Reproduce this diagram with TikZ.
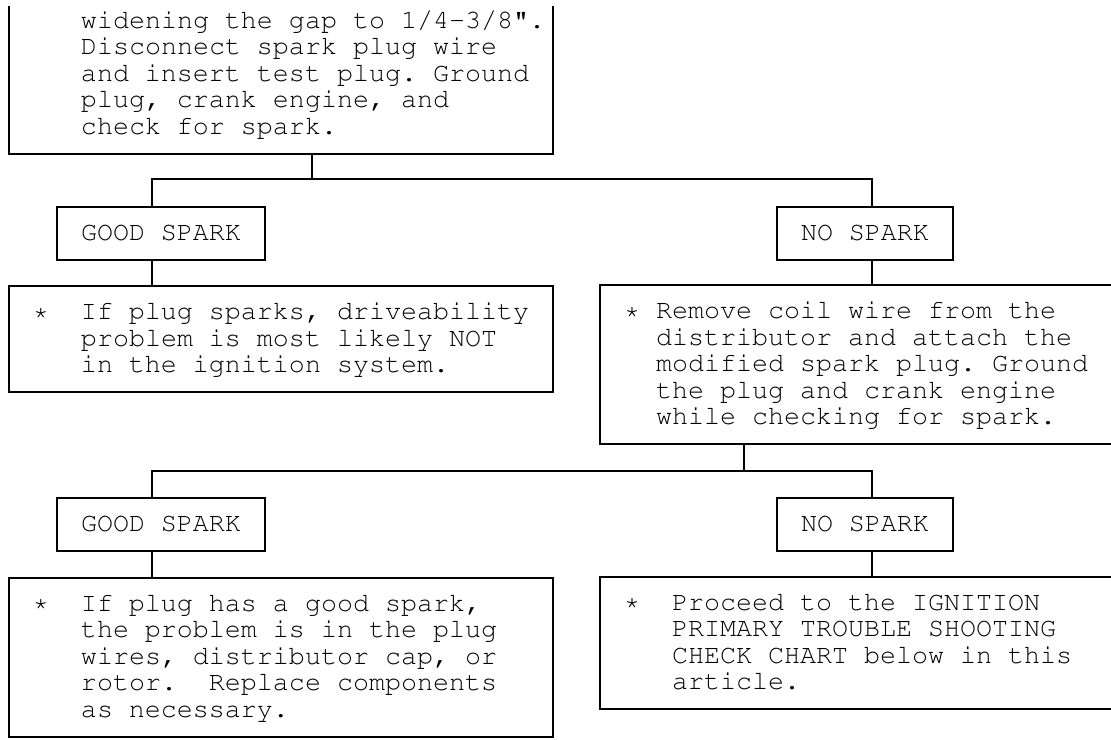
\documentclass[tikz,border=0pt]{standalone}
\usepackage[T1]{fontenc}
\usepackage{tikz}
\renewcommand{\ttdefault}{pcr}
\newcommand{\chartfont}{\fontsize{26.67}{26.5}\selectfont\ttfamily\frenchspacing}

\tikzset{
  chartbox/.style={anchor=north west, inner xsep=0pt, inner ysep=13.5pt,
    text height=20pt, align=left, font=\chartfont},
  framed/.style={chartbox, draw, line width=2pt},
  indent/.style={execute at begin node={\leftskip=#1\relax\spaceskip=16pt\relax}},
  link/.style={line width=2pt},
}

\begin{document}
\begin{tikzpicture}[x=1pt, y=-1pt]
\useasboundingbox (0,0) rectangle (1111,739);
\clip (0,6) rectangle (1111,739);
\coordinate (edge) at (1111,0);

\node[framed, text width=544pt, text depth=112pt, indent=72pt] (top) at (8,-6.5)
  {widening the gap to 1/4-3/8".\\ Disconnect spark plug wire\\ and insert test plug. Ground\\ plug, crank engine, and\\ check for spark.};

\node[framed, text width=208pt, text depth=6pt, indent=24pt] (good1) at (56,205.5) {GOOD SPARK};
\node[framed, text width=176pt, text depth=6pt, indent=24pt] (no1) at (776,205.5) {NO SPARK};

\node[framed, text width=544pt, text depth=59pt, indent=72pt] (sparks) at (8,285)
  {\llap{*\ \ }If plug sparks, driveability\\ problem is most likely NOT\\ in the ignition system.};
\node[chartbox, text width=511pt, text depth=112pt, indent=56pt] (remove) at (600,285)
  {\llap{*\ }Remove coil wire from the\\ distributor and attach the\\ modified spark plug. Ground\\ the plug and crank engine\\ while checking for spark.};

\node[framed, text width=208pt, text depth=6pt, indent=24pt] (good2) at (56,497) {GOOD SPARK};
\node[framed, text width=176pt, text depth=6pt, indent=24pt] (no2) at (776,497) {NO SPARK};

\node[framed, text width=544pt, text depth=112pt, indent=72pt] (rotor) at (8,576.5)
  {\llap{*\ \ }If plug has a good spark,\\ the problem is in the plug\\ wires, distributor cap, or\\ rotor.\ \ Replace components\\ as necessary.};
\node[chartbox, text width=511pt, text depth=85.5pt, indent=72pt] (chart) at (600,576.5)
  {\llap{*\ \ }Proceed to the IGNITION\\ PRIMARY TROUBLE SHOOTING\\ CHECK CHART below in this\\ article.};

% boxes running off the right edge
\draw[link] (remove.north west -| edge) -- (remove.north west) -- (remove.south west) -- (remove.south west -| edge);
\draw[link] (chart.north west -| edge) -- (chart.north west) -- (chart.south west) -- (chart.south west -| edge);

% branch points
\coordinate (split1) at (312,179);
\coordinate (left1) at (152,179);
\coordinate (right1) at (872,179);
\coordinate (split2) at (744,470.5);
\coordinate (left2) at (152,470.5);
\coordinate (right2) at (872,470.5);

\draw[link] (top.south -| split1) -- (split1);
\draw[link] (left1 |- good1.north) -- (left1) -- (right1) -- (right1 |- no1.north);
\draw[link] (left1 |- good1.south) -- (left1 |- sparks.north);
\draw[link] (right1 |- no1.south) -- (right1 |- remove.north);

\draw[link] (remove.south -| split2) -- (split2);
\draw[link] (left2 |- good2.north) -- (left2) -- (right2) -- (right2 |- no2.north);
\draw[link] (left2 |- good2.south) -- (left2 |- rotor.north);
\draw[link] (right2 |- no2.south) -- (right2 |- chart.north);
\end{tikzpicture}
\end{document}
